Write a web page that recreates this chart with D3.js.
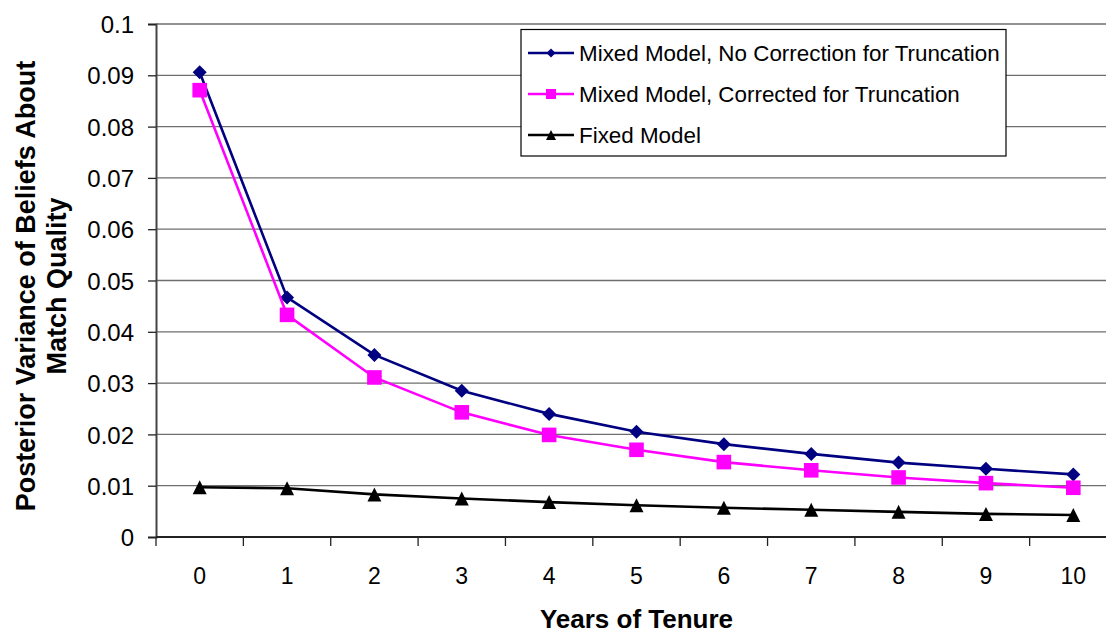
<!DOCTYPE html>
<html lang="en">

<head>
    <meta charset="UTF-8">
    <title>Posterior Variance of Beliefs About Match Quality</title>
    <style>
        body {
            margin: 0;
            overflow: hidden;
            background: #fff;
        }

        svg {
            display: block;
        }

        text {
            font-family: "Liberation Sans", Arial, sans-serif;
            fill: #000;
        }
    </style>
</head>

<body>
    <svg></svg>

    <script src="https://d3js.org/d3.v7.min.js"></script>
    <script>
        // data
        const years = [0, 1, 2, 3, 4, 5, 6, 7, 8, 9, 10];
        const mixedNoCorrection = [0.0906, 0.0467, 0.0355, 0.0285, 0.0240, 0.0205, 0.0181, 0.0162, 0.0145, 0.0133, 0.0122];
        const mixedCorrected = [0.0871, 0.0433, 0.0311, 0.0243, 0.0199, 0.0170, 0.0146, 0.0130, 0.0116, 0.0105, 0.0096];
        const fixedModel = [0.0097, 0.0095, 0.0083, 0.0075, 0.0068, 0.0062, 0.0057, 0.0053, 0.0049, 0.0045, 0.0043];
        const yTicks = [0, 0.01, 0.02, 0.03, 0.04, 0.05, 0.06, 0.07, 0.08, 0.09, 0.1];
        const seriesNames = [
            "Mixed Model, No Correction for Truncation",
            "Mixed Model, Corrected for Truncation",
            "Fixed Model"
        ];

        const width = 1106;
        const height = 633;

        const svg = d3.select("svg")
            .attr("width", width)
            .attr("height", height);

        // plot area (right edge runs past the window, as in the picture)
        const plotLeft = 156, plotRight = 1117, plotTop = 24, plotBottom = 537;

        const x = d3.scaleBand()
            .domain(years)
            .range([plotLeft, plotRight])
            .padding(0);

        const y = d3.scaleLinear()
            .domain([0, 0.1])
            .range([plotBottom, plotTop]);

        const cx = d => x(d) + x.bandwidth() / 2;

        // gridlines
        svg.append("g")
            .selectAll("line")
            .data(yTicks.filter(d => d > 0))
            .join("line")
            .attr("x1", plotLeft)
            .attr("x2", plotRight)
            .attr("y1", d => y(d))
            .attr("y2", d => y(d))
            .attr("stroke", "#6e6e6e")
            .attr("stroke-width", 1.3);

        // y axis
        const yAxis = svg.append("g")
            .attr("transform", `translate(${plotLeft},0)`)
            .call(d3.axisLeft(y)
                .tickValues(yTicks)
                .tickSize(8)
                .tickFormat(d => String(+d.toFixed(2))));
        yAxis.select(".domain").attr("stroke", "#444").attr("stroke-width", 2);
        yAxis.selectAll(".tick line").attr("stroke", "#222").attr("stroke-width", 1.3);
        yAxis.selectAll(".tick text")
            .attr("x", -22)
            .attr("dy", "0.36em")
            .style("font-size", "24px")
            .style("fill", "#000");

        // x axis: ticks sit on the band edges, labels in the band centre
        const xAxis = svg.append("g")
            .attr("transform", `translate(0,${plotBottom})`);
        xAxis.append("line")
            .attr("x1", plotLeft)
            .attr("x2", plotRight)
            .attr("stroke", "#222")
            .attr("stroke-width", 2);
        xAxis.selectAll("line.tk")
            .data(years)
            .join("line")
            .attr("class", "tk")
            .attr("x1", d => x(d))
            .attr("x2", d => x(d))
            .attr("y1", 0)
            .attr("y2", 9)
            .attr("stroke", "#222")
            .attr("stroke-width", 1.3);
        xAxis.selectAll("text")
            .data(years)
            .join("text")
            .attr("x", cx)
            .attr("y", 47)
            .attr("text-anchor", "middle")
            .style("font-size", "23px")
            .text(d => d);

        // marker shapes
        const markers = {
            diamond: s => `M0,${-s}L${s},0L0,${s}L${-s},0Z`,
            square: s => `M${-s},${-s}H${s}V${s}H${-s}Z`,
            triangle: s => `M0,${-s}L${s},${s}H${-s}Z`
        };

        const series = [
            { name: seriesNames[0], values: mixedNoCorrection, color: "#000080", marker: "diamond", size: 7, legendSize: 4.5 },
            { name: seriesNames[1], values: mixedCorrected, color: "#ff00ff", marker: "square", size: 7.3, legendSize: 5 },
            { name: seriesNames[2], values: fixedModel, color: "#000000", marker: "triangle", size: 7, legendSize: 5 }
        ];

        const line = d3.line()
            .x((d, i) => cx(years[i]))
            .y(d => y(d));

        series.forEach(s => {
            svg.append("path")
                .datum(s.values)
                .attr("fill", "none")
                .attr("stroke", s.color)
                .attr("stroke-width", 2.6)
                .attr("d", line);

            svg.append("g")
                .selectAll("path")
                .data(s.values)
                .join("path")
                .attr("transform", (d, i) => `translate(${cx(years[i])},${y(d)})`)
                .attr("fill", s.color)
                .attr("d", markers[s.marker](s.size));
        });

        // legend
        const legend = svg.append("g");
        legend.append("rect")
            .attr("x", 521)
            .attr("y", 29.5)
            .attr("width", 485)
            .attr("height", 126.5)
            .attr("fill", "#fff")
            .attr("stroke", "#000")
            .attr("stroke-width", 1.2);

        const rowY = [53, 94, 135];
        series.forEach((s, i) => {
            const g = legend.append("g").attr("transform", `translate(0,${rowY[i]})`);
            g.append("line")
                .attr("x1", 528)
                .attr("x2", 574)
                .attr("stroke", s.color)
                .attr("stroke-width", 2.6);
            g.append("path")
                .attr("transform", "translate(551,0)")
                .attr("fill", s.color)
                .attr("d", markers[s.marker](s.legendSize));
            g.append("text")
                .attr("x", 579)
                .attr("dy", "0.36em")
                .style("font-size", "22.4px")
                .text(s.name);
        });

        // axis titles
        svg.append("text")
            .attr("x", (plotLeft + plotRight) / 2)
            .attr("y", 628)
            .attr("text-anchor", "middle")
            .style("font-size", "26px")
            .style("font-weight", "bold")
            .text("Years of Tenure");

        const yTitle = svg.append("text")
            .attr("transform", "translate(0,286) rotate(-90)")
            .attr("text-anchor", "middle")
            .style("font-size", "27px")
            .style("font-weight", "bold");
        yTitle.append("tspan")
            .attr("x", 0).attr("y", 35)
            .text("Posterior Variance of Beliefs About");
        yTitle.append("tspan")
            .attr("x", 0).attr("y", 66)
            .text("Match Quality");
    </script>
</body>

</html>
